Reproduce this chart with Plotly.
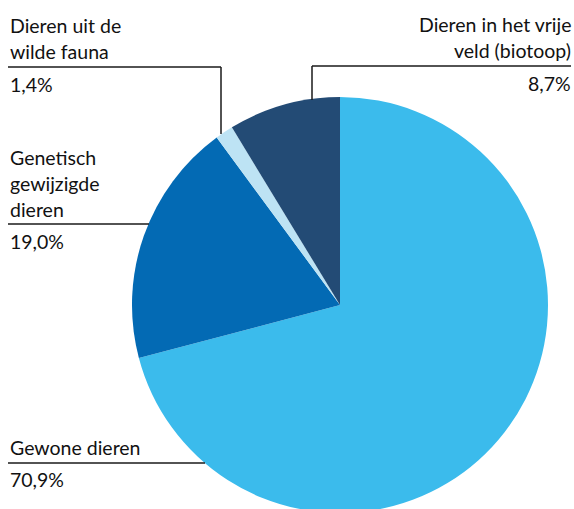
import plotly.graph_objects as go

W, H = 574, 513  # pie bottom slightly below the visible 509 px, as in the reference

categories = ["Gewone dieren", "Genetisch gewijzigde dieren", "Dieren uit de wilde fauna",
              "Dieren in het vrije veld (biotoop)"]
values = [70.9, 19.0, 1.4, 8.7]
value_labels = ["70,9%", "19,0%", "1,4%", "8,7%"]
colors = ["#3BBBEC", "#036AB4", "#BDE3F4", "#234B75"]


def px(x):
    return x / W


def py(y):
    return 1 - y / H


# pie centre (340, 305) radius 208 in page pixels
fig = go.Figure(go.Pie(
    labels=categories, values=values, sort=False, direction="clockwise", rotation=0,
    marker=dict(colors=colors, line=dict(width=0)),
    textinfo="none", hoverinfo="label+percent", showlegend=False,
    domain=dict(x=[px(132), px(548)], y=[py(513), py(97)]),
))

FONT = dict(family="Lato, 'Open Sans', sans-serif", size=19.5, color="#111111")
SHIFT = 6.8


def text(s, x, baseline, anchor="left"):
    fig.add_annotation(text=s, x=px(x), y=py(baseline - SHIFT), xref="paper", yref="paper",
                       xanchor=anchor, yanchor="middle", showarrow=False, font=FONT)


def line(x0, y0, x1, y1):
    fig.add_shape(type="line", xref="paper", yref="paper", x0=px(x0), y0=py(y0),
                  x1=px(x1), y1=py(y1), line=dict(color="#1a1a1a", width=1.5))


# Dieren uit de wilde fauna
text("Dieren uit de", 8, 32)
text("wilde fauna", 8, 58)
text(value_labels[2], 8, 91)
line(8, 67, 221, 67)
line(221, 67, 221, 134)

# Dieren in het vrije veld
text("Dieren in het vrije", 573, 31, "right")
text("veld (biotoop)", 573, 57, "right")
text(value_labels[3], 573, 90, "right")
line(312, 66, 571, 66)
line(312, 66, 312, 100)

# Genetisch gewijzigde dieren
text("Genetisch", 8, 164)
text("gewijzigde", 8, 190)
text("dieren", 8, 216)
text(value_labels[1], 8, 248)
line(8, 224, 149, 224)

# Gewone dieren
text("Gewone dieren", 8, 454)
text(value_labels[0], 8, 486)
line(8, 463, 205, 463)

fig.update_layout(width=W, height=H, margin=dict(l=0, r=0, t=0, b=0),
                  paper_bgcolor="white", plot_bgcolor="white")
fig.write_html(
    "out.html",
    config={"displayModeBar": False},
    post_script="document.body.style.margin='0';"
                "document.documentElement.style.overflow='hidden';"
                "document.body.style.overflow='hidden';",
)
